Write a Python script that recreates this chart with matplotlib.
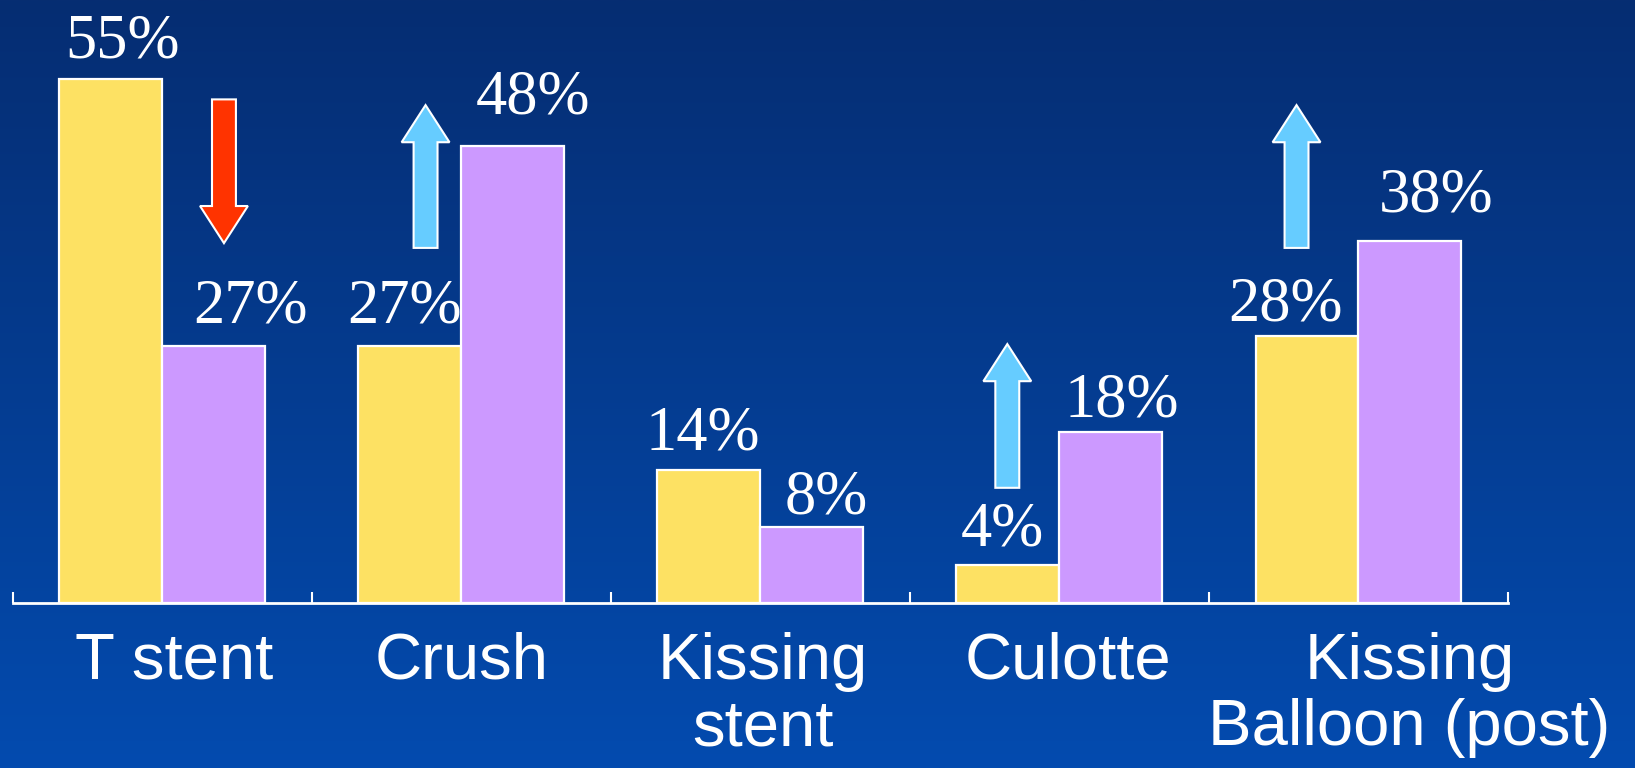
import numpy as np
import matplotlib
matplotlib.use("Agg")
import matplotlib.pyplot as plt
from matplotlib.patches import FancyArrow

# bifurcation technique usage, two periods (%)
techniques = ["T stent", "Crush", "Kissing\nstent", "Culotte", "Kissing\nBalloon (post)"]
before = [55, 27, 14, 4, 28]
after = [27, 48, 8, 18, 38]

# trend arrows: (x in category units, y start, y end, colour)
trend_arrows = [
    (0.207, 52.9, 37.8, "#FF3300"),
    (0.881, 37.3, 52.3, "#66CCFF"),
    (2.826, 12.1, 27.2, "#66CCFF"),
    (3.793, 37.3, 52.3, "#66CCFF"),
]

# label nudges in pixels (dx, dy above the bar top)
before_nudge = [(12, 22), (-5, 23), (-6, 20), (-6, 19), (-22, 16)]
after_nudge = [(37, 23), (20, 33), (15, 13), (11, 15), (26, 30)]
# category label shift, in category units
name_shift = [0.04, 0.0, 0.01, 0.03, 0.17]

W, H = 1635, 768
fig = plt.figure(figsize=(W / 100, H / 100), dpi=100)

# background gradient, dark navy at top to brighter blue at bottom
bg = fig.add_axes([0, 0, 1, 1], zorder=-1)
top = np.array([0x06, 0x2D, 0x72]) / 255
bottom = np.array([0x03, 0x4B, 0xAF]) / 255
t = np.linspace(0, 1, 256)[:, None]
grad = top + (bottom - top) * t
bg.imshow(grad[:, None, :], aspect="auto", extent=[0, 1, 0, 1], origin="upper")
bg.axis("off")

ax = fig.add_axes([12.5 / W, 1 - 603 / H, (1508 - 12.5) / W, 603 / H])
ax.patch.set_alpha(0)

x = np.arange(len(techniques))
width = 0.344
b1 = ax.bar(x - width / 2, before, width, color="#FDE163", edgecolor="white", linewidth=1.6, zorder=3)
b2 = ax.bar(x + width / 2, after, width, color="#CC99FF", edgecolor="white", linewidth=1.6, zorder=3)

ax.set_xlim(-0.5, len(techniques) - 0.5)
ax.set_ylim(0, 603 / 9.52)

serif = ["Liberation Serif", "DejaVu Serif"]
for bars, vals, nudges in [(b1, before, before_nudge), (b2, after, after_nudge)]:
    for rect, v, (dx, dy) in zip(bars, vals, nudges):
        ax.annotate(f"{v}%", (rect.get_x() + rect.get_width() / 2, v),
                    xytext=(dx, dy), textcoords="offset pixels",
                    ha="center", va="baseline", color="white",
                    fontsize=45, family=serif, zorder=5)

for xa, y0, y1, col in trend_arrows:
    ax.add_patch(FancyArrow(xa, y0, 0, y1 - y0, width=0.08, head_width=0.16,
                            head_length=3.9, length_includes_head=True,
                            facecolor=col, edgecolor="white", linewidth=1.5, zorder=4))

# axis line with small ticks between categories
for side in ["top", "right", "left"]:
    ax.spines[side].set_visible(False)
ax.spines["bottom"].set_color("white")
ax.spines["bottom"].set_linewidth(2)
ax.set_yticks([])
ax.set_xticks(np.arange(-0.5, len(techniques)))
ax.set_xticklabels([])
ax.tick_params(axis="x", direction="in", length=8, width=1.5, color="white")

sans = ["Liberation Sans", "DejaVu Sans"]
for xi, name, sh in zip(x, techniques, name_shift):
    ax.text(xi + sh, -3.0, name, ha="center", va="top", color="white",
            fontsize=47, family=sans, linespacing=1.14, clip_on=False)

fig.savefig("out.png", dpi=100)
